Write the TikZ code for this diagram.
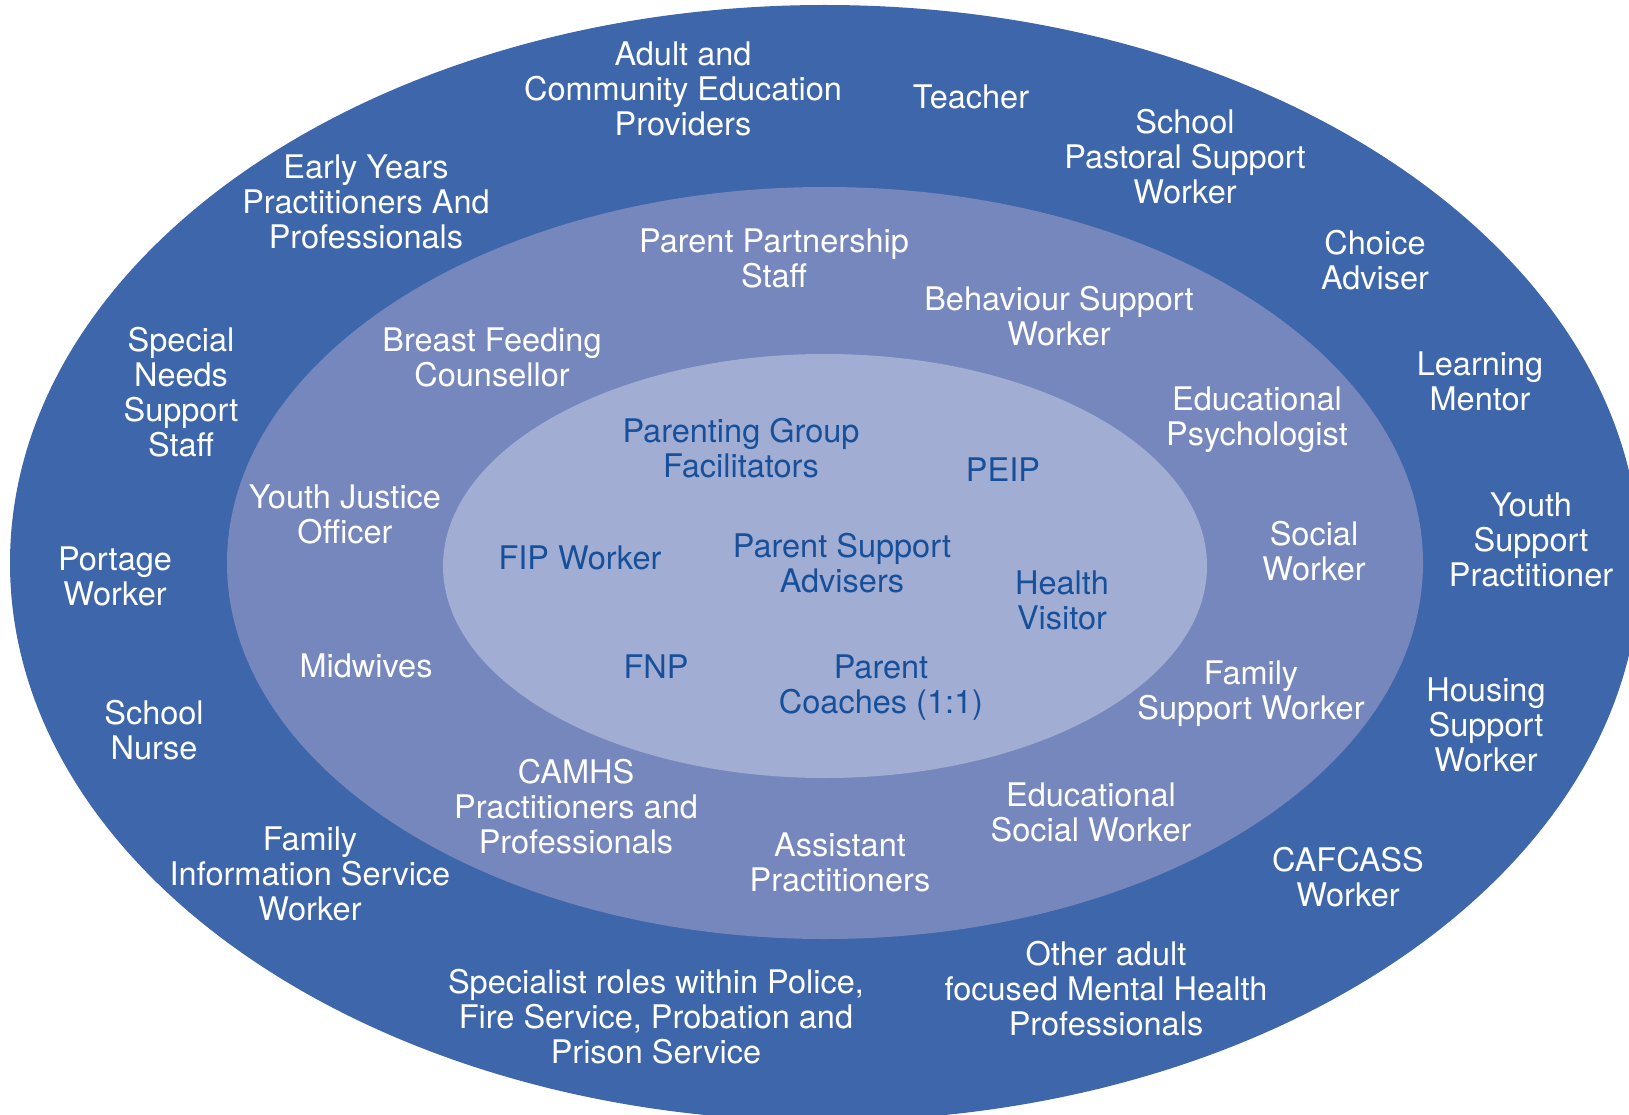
\documentclass[tikz,border=0pt]{standalone}
\usepackage{fontspec}
\setmainfont{TeX Gyre Heros}
\definecolor{outerblue}{HTML}{3E66AA}
\definecolor{midblue}{HTML}{7587BC}
\definecolor{innerblue}{HTML}{A2ADD4}
\definecolor{textblue}{HTML}{17509A}
\tikzset{
  lbl/.style={align=center, inner sep=0pt, font=\fontsize{32.5}{35}\selectfont},
  wlbl/.style={lbl, text=white},
  blbl/.style={lbl, text=textblue}
}
\begin{document}
\begin{tikzpicture}[x=1pt,y=-1pt]
\useasboundingbox (0,0) rectangle (1629,1115);
\clip (0,0) rectangle (1629,1115);
\fill[outerblue] (825,563) ellipse [x radius=815, y radius=558];
\fill[midblue] (825,563) ellipse [x radius=598, y radius=376];
\fill[innerblue] (825,566) ellipse [x radius=382, y radius=212];
% outer ring
\node[wlbl] (adult) at (683,89) {Adult and\\Community Education\\Providers};
\node[wlbl] (teacher) at (971,97) {Teacher};
\node[wlbl] (pastoral) at (1185,157) {School\\Pastoral Support\\Worker};
\node[wlbl] (choice) at (1375,260) {Choice\\Adviser};
\node[wlbl] (mentor) at (1480,381) {Learning\\Mentor};
\node[wlbl] (youthsup) at (1531,540) {Youth\\Support\\Practitioner};
\node[wlbl] (housing) at (1486,725) {Housing\\Support\\Worker};
\node[wlbl] (cafcass) at (1348,877) {CAFCASS\\Worker};
\node[wlbl] (mental) at (1106,989) {Other adult\\focused Mental Health\\Professionals};
\node[wlbl] (police) at (656,1017) {Specialist roles within Police,\\Fire Service, Probation and\\Prison Service};
\node[wlbl] (fis) at (310,874) {Family\\Information Service\\Worker};
\node[wlbl] (nurse) at (154,730) {School\\Nurse};
\node[wlbl] (portage) at (115,576) {Portage\\Worker};
\node[wlbl] (sen) at (181,392) {Special\\Needs\\Support\\Staff};
\node[wlbl] (early) at (366,202) {Early Years\\Practitioners And\\Professionals};
% middle ring
\node[wlbl] (partner) at (774,258) {Parent Partnership\\Staff};
\node[wlbl] (behav) at (1059,316) {Behaviour Support\\Worker};
\node[wlbl] (psych) at (1257,420) {Educational\\Psychologist};
\node[wlbl] (social) at (1314,551) {Social\\Worker};
\node[wlbl] (famsup) at (1251,694) {Family\\Support Worker};
\node[wlbl] (edsocial) at (1091,812) {Educational\\Social Worker};
\node[wlbl] (assist) at (840,862) {Assistant\\Practitioners};
\node[wlbl] (camhs) at (576,807) {CAMHS\\Practitioners and\\Professionals};
\node[wlbl] (midwives) at (366,666) {Midwives};
\node[wlbl] (yjo) at (345,514) {Youth Justice\\Officer};
\node[wlbl] (breast) at (492,357) {Breast Feeding\\Counsellor};
% inner
\node[blbl] (pgf) at (741,448) {Parenting Group\\Facilitators};
\node[blbl] (peip) at (1003,470) {PEIP};
\node[blbl] (fip) at (580,558) {FIP Worker};
\node[blbl] (psa) at (842,563) {Parent Support\\Advisers};
\node[blbl] (hv) at (1062,600) {Health\\Visitor};
\node[blbl] (fnp) at (656,667) {FNP};
\node[blbl] (coach) at (881,688) {Parent\\Coaches (1:1)};
\end{tikzpicture}
\end{document}
